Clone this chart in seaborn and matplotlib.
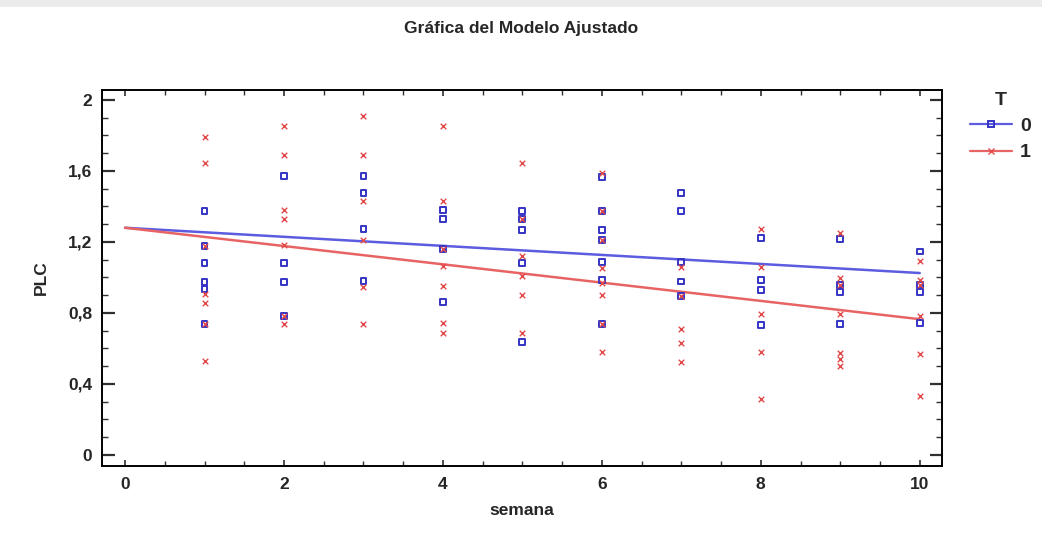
import numpy as np
import pandas as pd
import matplotlib
matplotlib.use("Agg")
import matplotlib.pyplot as plt
import seaborn as sns
from matplotlib.lines import Line2D
from matplotlib.patches import Rectangle
from matplotlib.ticker import MultipleLocator, FuncFormatter

# ---- data ----
t0_semana = [1]*6 + [2]*4 + [3]*4 + [4]*4 + [5]*5 + [6]*7 + [7]*5 + [8]*4 + [9]*4 + [10]*4
t0_plc = [1.376, 1.177, 1.083, 0.975, 0.933, 0.738,
          1.572, 1.080, 0.973, 0.783,
          1.574, 1.474, 1.271, 0.980,
          1.380, 1.331, 1.160, 0.864,
          1.376, 1.328, 1.268, 1.080, 0.635,
          1.568, 1.375, 1.268, 1.211, 1.086, 0.986, 0.738,
          1.474, 1.376, 1.089, 0.977, 0.896,
          1.224, 0.986, 0.930, 0.732,
          1.215, 0.958, 0.917, 0.738,
          1.146, 0.958, 0.917, 0.746]

t1_semana = [1]*7 + [2]*7 + [3]*6 + [4]*7 + [5]*6 + [6]*8 + [7]*5 + [8]*5 + [9]*7 + [10]*6
t1_plc = [1.790, 1.643, 1.177, 0.907, 0.854, 0.738, 0.531,
          1.854, 1.690, 1.380, 1.328, 1.183, 0.783, 0.738,
          1.912, 1.690, 1.433, 1.211, 0.948, 0.738,
          1.854, 1.433, 1.160, 1.067, 0.954, 0.746, 0.689,
          1.647, 1.328, 1.121, 1.008, 0.901, 0.685,
          1.590, 1.375, 1.211, 1.052, 0.967, 0.901, 0.738, 0.582,
          1.057, 0.896, 0.712, 0.633, 0.522,
          1.271, 1.061, 0.794, 0.582, 0.314,
          1.249, 0.995, 0.958, 0.794, 0.577, 0.539, 0.503,
          1.095, 0.986, 0.958, 0.785, 0.569, 0.332]

fit_semana = [0, 10]
fit_t0 = [1.280, 1.025]
fit_t1 = [1.280, 0.765]

legend_labels = ["0", "1"]
x_ticks = [0, 2, 4, 6, 8, 10]
y_ticks = [0, 0.4, 0.8, 1.2, 1.6, 2.0]

# ---- styling ----
sns.set_theme(style="white")
plt.rcParams["font.family"] = ["Liberation Sans Narrow", "Liberation Sans", "DejaVu Sans"]

BLUE_PT = "#3434c4"
RED_PT = "#e24a4a"
BLUE_LN = "#5c5ce0"
RED_LN = "#e86464"

fig = plt.figure(figsize=(10.42, 5.33), dpi=100)
fig.patches.append(Rectangle((0, 1 - 7/533), 1, 7/533, transform=fig.transFigure,
                             facecolor="#ecebeb", edgecolor="none", zorder=0))
ax = fig.add_axes([102/1042, 1 - 466/533, 840/1042, 376/533])

df0 = pd.DataFrame({"semana": t0_semana, "PLC": t0_plc})
df1 = pd.DataFrame({"semana": t1_semana, "PLC": t1_plc})
dfit = pd.DataFrame({"semana": fit_semana * 2,
                     "PLC": fit_t0 + fit_t1,
                     "T": [legend_labels[0]] * 2 + [legend_labels[1]] * 2})

sns.lineplot(data=dfit, x="semana", y="PLC", hue="T",
             palette={legend_labels[0]: BLUE_LN, legend_labels[1]: RED_LN},
             linewidth=1.8, legend=False, ax=ax, zorder=2)
sns.scatterplot(data=df0, x="semana", y="PLC", marker="s", s=18,
                facecolors="none", edgecolors=BLUE_PT, linewidths=1.4,
                legend=False, ax=ax, zorder=3)
sns.scatterplot(data=df1, x="semana", y="PLC", marker="x", s=16,
                color=RED_PT, linewidths=1.0, legend=False, ax=ax, zorder=4)

ax.set_xlim(-0.29, 10.28)
ax.set_ylim(-0.062, 2.056)
ax.set_xticks(x_ticks)
ax.set_yticks(y_ticks)
ax.xaxis.set_minor_locator(MultipleLocator(0.5))
ax.yaxis.set_minor_locator(MultipleLocator(0.1))
ax.yaxis.set_major_formatter(FuncFormatter(lambda v, p: f"{v:g}".replace(".", ",")))
ax.tick_params(axis="both", which="both", direction="in",
               top=True, right=True, left=True, bottom=True, color="#303030")
ax.tick_params(axis="x", which="major", length=4, width=1.2, labelsize=12.5, pad=8)
ax.tick_params(axis="x", which="minor", length=3.5, width=1.0)
ax.tick_params(axis="y", which="major", length=9, width=1.6, labelsize=12.5, pad=7)
ax.tick_params(axis="y", which="minor", length=4, width=1.0)
for lab in ax.get_xticklabels() + ax.get_yticklabels():
    lab.set_fontweight("bold")
for sp in ax.spines.values():
    sp.set_color("black")
    sp.set_linewidth(1.4)

ax.set_xlabel("semana", fontsize=12.5, fontweight="bold", labelpad=8)
ax.set_ylabel("PLC", fontsize=12.5, fontweight="bold", labelpad=14)
fig.suptitle("Gráfica del Modelo Ajustado", x=0.5, y=1 - 28/533, va="center",
             fontsize=12.5, fontweight="bold")

handles = [Line2D([0], [0], color=BLUE_LN, linewidth=1.6, marker="s", markersize=4,
                  markerfacecolor="none", markeredgecolor=BLUE_PT, markeredgewidth=1.4),
           Line2D([0], [0], color=RED_LN, linewidth=1.6, marker="x", markersize=5,
                  markeredgecolor=RED_PT, markeredgewidth=1.0)]
leg = fig.legend(handles, legend_labels, title="T", loc="upper left",
                 bbox_to_anchor=(956/1042, 1 - 78/533), frameon=False,
                 fontsize=14, title_fontsize=14, handlelength=2.2,
                 handletextpad=0.4, labelspacing=0.45, borderpad=0.2)
leg.get_title().set_fontweight("bold")
for t in leg.get_texts():
    t.set_fontweight("bold")

fig.savefig("out.png", dpi=100)
